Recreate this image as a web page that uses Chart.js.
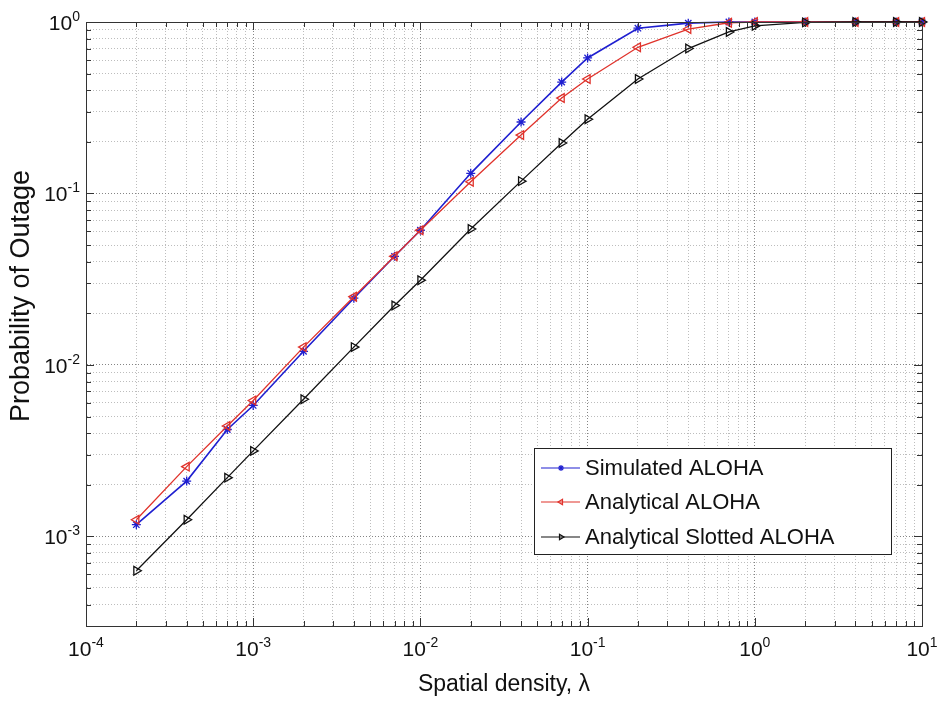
<!DOCTYPE html>
<html>
<head>
<meta charset="utf-8">
<script src="https://cdn.jsdelivr.net/npm/chart.js@4/dist/chart.umd.min.js"></script>
<style>
  html, body { margin: 0; padding: 0; background: #fff; }
  canvas { display: block; }
</style>
</head>
<body>
<canvas id="c" width="938" height="702"></canvas>
<script>
// ---- data ----
const densities = [2e-4, 4e-4, 7e-4, 1e-3, 2e-3, 4e-3, 7e-3, 1e-2, 2e-2, 4e-2, 7e-2, 0.1, 0.2, 0.4, 0.7, 1, 2, 4, 7, 10];
const simulatedAloha = [1.17e-3, 2.1e-3, 4.2e-3, 5.8e-3, 1.2e-2, 2.45e-2, 4.3e-2, 6.1e-2, 0.131, 0.261, 0.446, 0.617, 0.92, 0.985, 1, 1, 1, 1, 1, 1];
const analyticalAloha = [1.25e-3, 2.55e-3, 4.4e-3, 6.2e-3, 1.27e-2, 2.5e-2, 4.3e-2, 6.1e-2, 0.117, 0.219, 0.36, 0.465, 0.712, 0.91, 0.99, 1, 1, 1, 1, 1];
const slottedAloha = [6.3e-4, 1.25e-3, 2.2e-3, 3.15e-3, 6.3e-3, 1.27e-2, 2.22e-2, 3.12e-2, 6.2e-2, 0.118, 0.197, 0.271, 0.465, 0.70, 0.875, 0.95, 0.995, 1, 1, 1];
const seriesNames = ['Simulated ALOHA', 'Analytical ALOHA', 'Analytical Slotted ALOHA'];
const xTickExponents = [-4, -3, -2, -1, 0, 1];
const yTickExponents = [-3, -2, -1, 0];
const xTitle = 'Spatial density, \u03bb';
const yTitle = 'Probability of Outage';

const FONT = '"Liberation Sans", Arial, sans-serif';

function toPoints(ys) { return densities.map((x, i) => ({ x: x, y: ys[i] })); }
function isMajor(v) { const l = Math.log10(v); return Math.abs(l - Math.round(l)) < 1e-6; }
function logTicks(minExp, maxExp, startMant) {
  const t = [];
  for (let e = minExp; e < maxExp; e++) {
    for (let m = 1; m <= 9; m++) {
      const v = m * Math.pow(10, e);
      if (e === minExp && m < startMant) continue;
      t.push({ value: v });
    }
  }
  t.push({ value: Math.pow(10, maxExp) });
  return t;
}

const gridColor = (c) => (c.tick && isMajor(c.tick.value)) ? '#858585' : '#bdbdbd';

const styles = [
  { color: '#1f1fd0', pointStyle: 'star', rotation: 0, radius: 4.5, lw: 1.6 },
  { color: '#e0322b', pointStyle: 'triangle', rotation: -90, radius: 5, lw: 1.3 },
  { color: '#111111', pointStyle: 'triangle', rotation: 90, radius: 5, lw: 1.3 }
];

const frameAndLabels = {
  id: 'frameAndLabels',
  afterDraw(chart) {
    const ctx = chart.ctx;
    const a = chart.chartArea;
    const xs = chart.scales.x, ys = chart.scales.y;
    ctx.save();
    // inner tick marks
    ctx.strokeStyle = '#333';
    ctx.lineWidth = 1;
    ctx.beginPath();
    xs.ticks.forEach(t => {
      const px = Math.round(xs.getPixelForValue(t.value)) + 0.5;
      const len = isMajor(t.value) ? 8 : 5;
      ctx.moveTo(px, a.bottom); ctx.lineTo(px, a.bottom - len);
      ctx.moveTo(px, a.top); ctx.lineTo(px, a.top + len);
    });
    ys.ticks.forEach(t => {
      const py = Math.round(ys.getPixelForValue(t.value)) + 0.5;
      const len = isMajor(t.value) ? 8 : 5;
      ctx.moveTo(a.left, py); ctx.lineTo(a.left + len, py);
      ctx.moveTo(a.right, py); ctx.lineTo(a.right - len, py);
    });
    ctx.stroke();
    // box
    ctx.strokeStyle = '#333';
    ctx.strokeRect(Math.round(a.left) + 0.5, Math.round(a.top) + 0.5, Math.round(a.right - a.left), Math.round(a.bottom - a.top));

    // tick labels 10^n
    ctx.fillStyle = '#111';
    ctx.textBaseline = 'alphabetic';
    ctx.textAlign = 'left';
    const bigF = '21px ' + FONT, supF = '14px ' + FONT;
    xTickExponents.forEach(e => {
      const px = xs.getPixelForValue(Math.pow(10, e));
      ctx.font = bigF; const w1 = ctx.measureText('10').width;
      ctx.font = supF; const w2 = ctx.measureText(String(e)).width;
      const x0 = px - (w1 + w2) / 2;
      ctx.font = bigF; ctx.fillText('10', x0, 656);
      ctx.font = supF; ctx.fillText(String(e), x0 + w1, 647);
    });
    yTickExponents.forEach(e => {
      const py = ys.getPixelForValue(Math.pow(10, e));
      ctx.font = bigF; const w1 = ctx.measureText('10').width;
      ctx.font = supF; const w2 = ctx.measureText(String(e)).width;
      const x0 = 80 - (w1 + w2);
      ctx.font = bigF; ctx.fillText('10', x0, py + 8);
      ctx.font = supF; ctx.fillText(String(e), x0 + w1, py - 1);
    });

    // y-axis title (placed as in the reference, above the axis centre)
    ctx.save();
    ctx.translate(22, 296);
    ctx.rotate(-Math.PI / 2);
    ctx.textAlign = 'center';
    ctx.textBaseline = 'middle';
    ctx.font = '27px ' + FONT;
    ctx.fillStyle = '#111';
    ctx.fillText(yTitle, 0, 0);
    ctx.restore();

    // legend
    const lx = 534, ly = 448, lw = 357, lh = 106;
    ctx.fillStyle = '#fff';
    ctx.fillRect(lx, ly, lw, lh);
    ctx.strokeStyle = '#222';
    ctx.lineWidth = 1;
    ctx.strokeRect(lx + 0.5, ly + 0.5, lw, lh);
    const rows = [468, 502, 537];
    chart.data.datasets.forEach((ds, i) => {
      const y = rows[i];
      const st = styles[i];
      ctx.strokeStyle = st.color;
      ctx.lineWidth = 1.2;
      ctx.beginPath(); ctx.moveTo(541, y); ctx.lineTo(580, y); ctx.stroke();
      ctx.fillStyle = 'rgba(0,0,0,0)';
      Chart.helpers.drawPoint(ctx, { pointStyle: st.pointStyle, rotation: st.rotation, radius: 3, borderWidth: 1 }, 561, y);
      ctx.fillStyle = '#111';
      ctx.font = '22px ' + FONT;
      ctx.textAlign = 'left';
      ctx.textBaseline = 'middle';
      ctx.fillText(ds.label, 585, y + 1);
    });
    ctx.restore();
  }
};

const datasets = [simulatedAloha, analyticalAloha, slottedAloha].map((ys, i) => ({
  label: seriesNames[i],
  data: toPoints(ys),
  borderColor: styles[i].color,
  backgroundColor: 'rgba(0,0,0,0)',
  borderWidth: styles[i].lw,
  pointStyle: styles[i].pointStyle,
  rotation: styles[i].rotation,
  pointRadius: styles[i].radius,
  pointBorderWidth: 1.3,
  pointBorderColor: styles[i].color,
  pointBackgroundColor: 'rgba(0,0,0,0)',
  tension: 0,
  clip: false,
  order: [2, 1, 0][i]
}));

new Chart(document.getElementById('c'), {
  type: 'line',
  data: { datasets },
  options: {
    responsive: false,
    animation: false,
    devicePixelRatio: 1,
    layout: { padding: { top: 22, right: 16, left: 0, bottom: 0 } },
    plugins: { legend: { display: false }, tooltip: { enabled: false } },
    scales: {
      x: {
        type: 'logarithmic',
        min: 1e-4, max: 10,
        afterBuildTicks: s => { s.ticks = logTicks(-4, 1, 1); },
        afterFit: s => { s.height = 76; },
        ticks: { display: false },
        grid: { color: gridColor, lineWidth: 1, drawTicks: false },
        border: { display: true, color: '#333', width: 1, dash: [1, 2] },
        title: { display: true, text: xTitle, color: '#111', font: { family: FONT, size: 23 }, padding: { top: 0, bottom: 4 } }
      },
      y: {
        type: 'logarithmic',
        min: 3e-4, max: 1,
        afterBuildTicks: s => { s.ticks = logTicks(-4, 0, 3); },
        afterFit: s => { s.width = 86; },
        ticks: { display: false },
        grid: { color: gridColor, lineWidth: 1, drawTicks: false },
        border: { display: true, color: '#333', width: 1, dash: [1, 2] },
        title: { display: false }
      }
    }
  },
  plugins: [frameAndLabels]
});
</script>
</body>
</html>
